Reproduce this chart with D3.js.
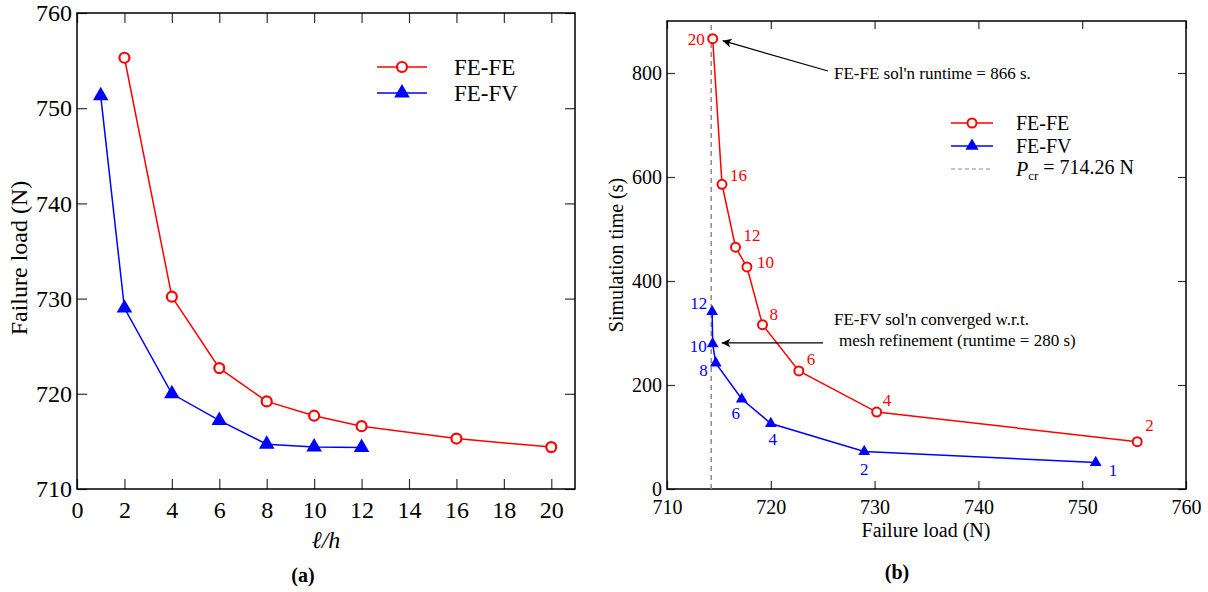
<!DOCTYPE html>
<html>
<head>
<meta charset="utf-8">
<script src="https://cdn.jsdelivr.net/npm/d3@7"></script>
<style>
  body { margin: 0; background: #fff; }
  svg, svg text { font-family: 'Liberation Serif', 'Times New Roman', Times, 'DejaVu Serif', serif; }
</style>
</head>
<body>
<div id="chart"></div>
<script>
var red = '#ff0000',
    blue = '#0000ff',
    grey = '#8c8c8c';
var SERIF = "'Liberation Serif', 'Times New Roman', Times, serif";

// (a) failure load vs mesh ratio l/h
var ratioFE = [2, 4, 6, 8, 10, 12, 16, 20];
var loadFE = [755.3, 730.2, 722.7, 719.2, 717.7, 716.6, 715.3, 714.4];
var ratioFV = [1, 2, 4, 6, 8, 10, 12];
var loadFV = [751.3, 729.0, 720.0, 717.2, 714.7, 714.4, 714.35];

// (b) simulation time vs failure load
var timeFE = [91, 148, 227, 316, 427, 465, 586, 866];
var timeFV = [51, 72, 126, 173, 242, 279, 341];

var P_CR = 714.26;

var xTicksA = [0, 2, 4, 6, 8, 10, 12, 14, 16, 18, 20];
var yTicksA = [710, 720, 730, 740, 750, 760];
var xTicksB = [710, 720, 730, 740, 750, 760];
var yTicksB = [0, 200, 400, 600, 800];

// label offsets next to the points of panel (b), keyed by l/h
var offFE = {
  20: [-8, 0, 'end'], 16: [8, -9, 'start'], 12: [8, -12, 'start'], 10: [10, -5, 'start'],
  8: [7, -11, 'start'], 6: [8, -12, 'start'], 4: [6, -12, 'start'], 2: [8, -17, 'start']
};
var offFV = {
  12: [-5, -9, 'end'], 10: [-6, 2, 'end'], 8: [-8, 7, 'end'], 6: [-6, 14, 'middle'],
  4: [2, 16, 'middle'], 2: [0, 17, 'middle'], 1: [13, 8, 'start']
};

var svg = d3.select('#chart').append('svg')
    .attr('width', 1208)
    .attr('height', 592)
    .attr('font-family', SERIF);

svg.append('defs').append('marker')
    .attr('id', 'head')
    .attr('viewBox', '0 0 10 10')
    .attr('refX', 10).attr('refY', 5)
    .attr('markerWidth', 11).attr('markerHeight', 9)
    .attr('markerUnits', 'userSpaceOnUse')
    .attr('orient', 'auto')
    .append('path').attr('d', 'M0,0 L10,5 L0,10 L3,5 Z').attr('fill', '#000');

function frame(g, x, y, tickLen, fontSize, xt, yt, pad) {
  var r = x.range(), b = y.range();
  g.append('g')
      .attr('transform', 'translate(0,' + b[0] + ')')
      .call(d3.axisBottom(x).tickValues(xt).tickSize(-tickLen).tickPadding(pad).tickFormat(d3.format('d')));
  g.append('g')
      .attr('transform', 'translate(' + r[0] + ',0)')
      .call(d3.axisLeft(y).tickValues(yt).tickSize(-tickLen).tickPadding(5).tickFormat(d3.format('d')));
  g.append('g')
      .attr('transform', 'translate(0,' + b[1] + ')')
      .call(d3.axisTop(x).tickValues(xt).tickSize(-tickLen).tickFormat(''));
  g.append('g')
      .attr('transform', 'translate(' + r[1] + ',0)')
      .call(d3.axisRight(y).tickValues(yt).tickSize(-tickLen).tickFormat(''));
  g.selectAll('.domain').remove();
  g.selectAll('g').attr('font-family', SERIF);
  g.selectAll('.tick line').attr('stroke', '#333').attr('stroke-width', 1.2);
  g.selectAll('.tick text')
      .attr('font-size', fontSize)
      .attr('fill', '#000');
  g.append('rect')
      .attr('x', r[0]).attr('y', b[1])
      .attr('width', r[1] - r[0]).attr('height', b[0] - b[1])
      .attr('fill', 'none').attr('stroke', '#000').attr('stroke-width', 1.5);
}

var tri = d3.symbol().type(d3.symbolTriangle);

// ---------- panel (a) ----------
var xA = d3.scaleLinear().domain([0, 21]).range([77, 575]);
var yA = d3.scaleLinear().domain([710, 760]).range([489, 13]);
var gA = svg.append('g');
frame(gA, xA, yA, 10, 24, xTicksA, yTicksA, 12);

var lineA = d3.line().x(function(d) { return xA(d[0]); }).y(function(d) { return yA(d[1]); });
var feA = d3.zip(ratioFE, loadFE), fvA = d3.zip(ratioFV, loadFV);

gA.append('path').datum(feA).attr('d', lineA)
    .attr('fill', 'none').attr('stroke', red).attr('stroke-width', 1.5);
gA.append('path').datum(fvA).attr('d', lineA)
    .attr('fill', 'none').attr('stroke', blue).attr('stroke-width', 1.5);
gA.selectAll('.m-fe').data(feA).enter().append('circle')
    .attr('cx', function(d) { return xA(d[0]); })
    .attr('cy', function(d) { return yA(d[1]); })
    .attr('r', 5).attr('fill', '#fff').attr('stroke', red).attr('stroke-width', 2.2);
gA.selectAll('.m-fv').data(fvA).enter().append('path')
    .attr('d', tri.size(105))
    .attr('transform', function(d) { return 'translate(' + xA(d[0]) + ',' + yA(d[1]) + ')'; })
    .attr('fill', blue);

// legend (a)
var legA = gA.append('g');
[[red, 'FE-FE', 67], [blue, 'FE-FV', 93]].forEach(function(it, i) {
  legA.append('line').attr('x1', 377).attr('x2', 427).attr('y1', it[2]).attr('y2', it[2])
      .attr('stroke', it[0]).attr('stroke-width', 1.5);
  if (i === 0) {
    legA.append('circle').attr('cx', 402).attr('cy', it[2]).attr('r', 5)
        .attr('fill', '#fff').attr('stroke', red).attr('stroke-width', 2.2);
  } else {
    legA.append('path').attr('d', tri.size(105))
        .attr('transform', 'translate(402,' + it[2] + ')').attr('fill', blue);
  }
  legA.append('text').attr('x', 454).attr('y', it[2]).attr('dy', '0.35em')
      .attr('font-size', 23).text(it[1]);
});

gA.append('text').attr('x', 326).attr('y', 548).attr('text-anchor', 'middle')
    .attr('font-size', 24).attr('font-style', 'italic').text('\u2113/h');
gA.append('text').attr('transform', 'translate(27,258) rotate(-90)')
    .attr('text-anchor', 'middle').attr('font-size', 24).text('Failure load (N)');
gA.append('text').attr('x', 303).attr('y', 582).attr('text-anchor', 'middle')
    .attr('font-size', 20).attr('font-weight', 'bold').text('(a)');

// ---------- panel (b) ----------
var xB = d3.scaleLinear().domain([710, 760]).range([667, 1186]);
var yB = d3.scaleLinear().domain([0, 900]).range([489, 21]);
var gB = svg.append('g');
frame(gB, xB, yB, 8, 20, xTicksB, yTicksB, 11);

gB.append('line')
    .attr('x1', xB(P_CR)).attr('x2', xB(P_CR))
    .attr('y1', yB(0)).attr('y2', yB(900))
    .attr('stroke', grey).attr('stroke-width', 1.5).attr('stroke-dasharray', '5,4');

var feB = d3.zip(loadFE, timeFE, ratioFE), fvB = d3.zip(loadFV, timeFV, ratioFV);
var lineB = d3.line().x(function(d) { return xB(d[0]); }).y(function(d) { return yB(d[1]); });

gB.append('path').datum(feB).attr('d', lineB)
    .attr('fill', 'none').attr('stroke', red).attr('stroke-width', 1.5);
gB.append('path').datum(fvB).attr('d', lineB)
    .attr('fill', 'none').attr('stroke', blue).attr('stroke-width', 1.5);
gB.selectAll('.m-fe').data(feB).enter().append('circle')
    .attr('cx', function(d) { return xB(d[0]); })
    .attr('cy', function(d) { return yB(d[1]); })
    .attr('r', 4.5).attr('fill', '#fff').attr('stroke', red).attr('stroke-width', 2);
gB.selectAll('.m-fv').data(fvB).enter().append('path')
    .attr('d', tri.size(60))
    .attr('transform', function(d) { return 'translate(' + xB(d[0]) + ',' + yB(d[1]) + ')'; })
    .attr('fill', blue);

gB.selectAll('.l-fe').data(feB).enter().append('text')
    .attr('x', function(d) { return xB(d[0]) + offFE[d[2]][0]; })
    .attr('y', function(d) { return yB(d[1]) + offFE[d[2]][1]; })
    .attr('dy', '0.35em')
    .attr('text-anchor', function(d) { return offFE[d[2]][2]; })
    .attr('font-size', 17).attr('fill', red)
    .text(function(d) { return d[2]; });
gB.selectAll('.l-fv').data(fvB).enter().append('text')
    .attr('x', function(d) { return xB(d[0]) + offFV[d[2]][0]; })
    .attr('y', function(d) { return yB(d[1]) + offFV[d[2]][1]; })
    .attr('dy', '0.35em')
    .attr('text-anchor', function(d) { return offFV[d[2]][2]; })
    .attr('font-size', 17).attr('fill', blue)
    .text(function(d) { return d[2]; });

// annotations
var topFE = feB[feB.length - 1], convFV = fvB[5];
gB.append('line')
    .attr('x1', 828).attr('y1', 71)
    .attr('x2', xB(topFE[0]) + 10).attr('y2', yB(topFE[1]) + 2)
    .attr('stroke', '#000').attr('stroke-width', 1.2).attr('marker-end', 'url(#head)');
gB.append('text').attr('x', 834).attr('y', 79).attr('font-size', 17)
    .text("FE-FE sol'n runtime = 866 s.");
gB.append('line')
    .attr('x1', 823).attr('y1', yB(convFV[1]) - 1)
    .attr('x2', xB(convFV[0]) + 9).attr('y2', yB(convFV[1]) - 1)
    .attr('stroke', '#000').attr('stroke-width', 1.2).attr('marker-end', 'url(#head)');
gB.append('text').attr('x', 834).attr('y', 325).attr('font-size', 17)
    .text("FE-FV sol'n converged w.r.t.");
gB.append('text').attr('x', 839).attr('y', 346).attr('font-size', 17)
    .text('mesh refinement (runtime = 280 s)');

// legend (b)
var legB = gB.append('g');
legB.append('line').attr('x1', 951).attr('x2', 993).attr('y1', 123).attr('y2', 123)
    .attr('stroke', red).attr('stroke-width', 1.5);
legB.append('circle').attr('cx', 972).attr('cy', 123).attr('r', 4.5)
    .attr('fill', '#fff').attr('stroke', red).attr('stroke-width', 2);
legB.append('line').attr('x1', 951).attr('x2', 993).attr('y1', 146).attr('y2', 146)
    .attr('stroke', blue).attr('stroke-width', 1.5);
legB.append('path').attr('d', tri.size(75)).attr('transform', 'translate(972,146)').attr('fill', blue);
legB.append('line').attr('x1', 951).attr('x2', 993).attr('y1', 169).attr('y2', 169)
    .attr('stroke', grey).attr('stroke-width', 1.2).attr('stroke-dasharray', '4,3');
legB.append('text').attr('x', 1016).attr('y', 123).attr('dy', '0.35em').attr('font-size', 20).text('FE-FE');
legB.append('text').attr('x', 1016).attr('y', 146).attr('dy', '0.35em').attr('font-size', 20).text('FE-FV');
var pcr = legB.append('text').attr('x', 1016).attr('y', 169).attr('dy', '0.35em').attr('font-size', 20);
pcr.append('tspan').attr('font-style', 'italic').text('P');
pcr.append('tspan').attr('font-size', 13).attr('dy', '0.3em').text('cr');
pcr.append('tspan').attr('dy', '-0.3em').text(' = ' + P_CR + ' N');

gB.append('text').attr('x', 926).attr('y', 537).attr('text-anchor', 'middle')
    .attr('font-size', 20).text('Failure load (N)');
gB.append('text').attr('transform', 'translate(623,255) rotate(-90)')
    .attr('text-anchor', 'middle').attr('font-size', 20).text('Simulation time (s)');
gB.append('text').attr('x', 897).attr('y', 579).attr('text-anchor', 'middle')
    .attr('font-size', 20).attr('font-weight', 'bold').text('(b)');
</script>
</body>
</html>
